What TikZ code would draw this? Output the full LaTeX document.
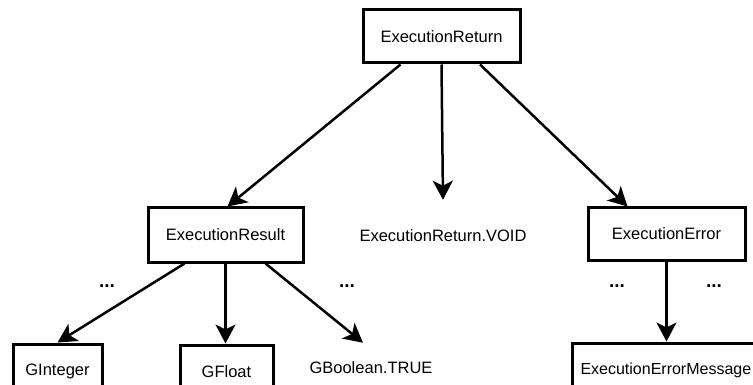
\documentclass[tikz,border=0pt]{standalone}
\usepackage{fontspec}
\setmainfont{Liberation Sans}
\usetikzlibrary{arrows.meta}
\begin{document}
\begin{tikzpicture}[x=1pt, y=-1pt, font=\fontsize{16.5}{19}\selectfont, >={Stealth[length=19pt,width=20pt,inset=5pt]},
			box/.style={draw, line width=3pt, minimum height=53pt, inner sep=0pt},
			lbl/.style={inner sep=2pt},
			dots/.style={font=\fontsize{19}{22}\selectfont\bfseries},
			edge/.style={->, line width=2.5pt}]
			\useasboundingbox (0,0) rectangle (753,385);
			\clip (0,0) rectangle (753,385);
			
			\node[box, minimum width=157pt] (ret) at (441.5,36.5) {ExecutionReturn};
			\node[box, minimum width=155pt, minimum height=54pt] (res) at (225.5,235) {ExecutionResult};
			\node[lbl] (void) at (443,236) {ExecutionReturn.VOID};
			\node[box, minimum width=157pt, minimum height=52pt] (err) at (666.5,234) {ExecutionError};
			
			\node[dots] (dotsA) at (107,286) {...};
			\node[dots] (dotsB) at (347,286) {...};
			\node[dots] (dotsC) at (617,286) {...};
			\node[dots] (dotsD) at (714,286) {...};
			
			\node[box, minimum width=89pt, minimum height=54pt] (gint) at (57.5,371) {GInteger};
			\node[box, minimum width=93pt, minimum height=54pt] (gflt) at (226.5,372) {GFloat};
			\node[lbl] (gbool) at (371,368) {GBoolean.TRUE};
			\node[box, anchor=west, inner xsep=8pt, minimum height=54pt, font=\fontsize{16}{19}\selectfont] (msg) at (571,370) {ExecutionErrorMessage\hspace*{12pt}};
			
			\draw[edge] ([xshift=-41pt]ret.south) -- ([xshift=2pt]res.north);
			\draw[edge] (ret.south) -- ([yshift=28pt]void.north);
			\draw[edge] ([xshift=38.5pt]ret.south) -- ([xshift=-39pt]err.north);
			
			\draw[edge] ([xshift=-41pt]res.south) -- (gint.north);
			\draw[edge] (res.south) -- (res.south |- gflt.north);
			\draw[edge] ([xshift=40pt]res.south) -- ([xshift=-8pt,yshift=17pt]gbool.north);
			\draw[edge] (err.south) -- (err.south |- msg.north);
			
		\end{tikzpicture}
\end{document}
